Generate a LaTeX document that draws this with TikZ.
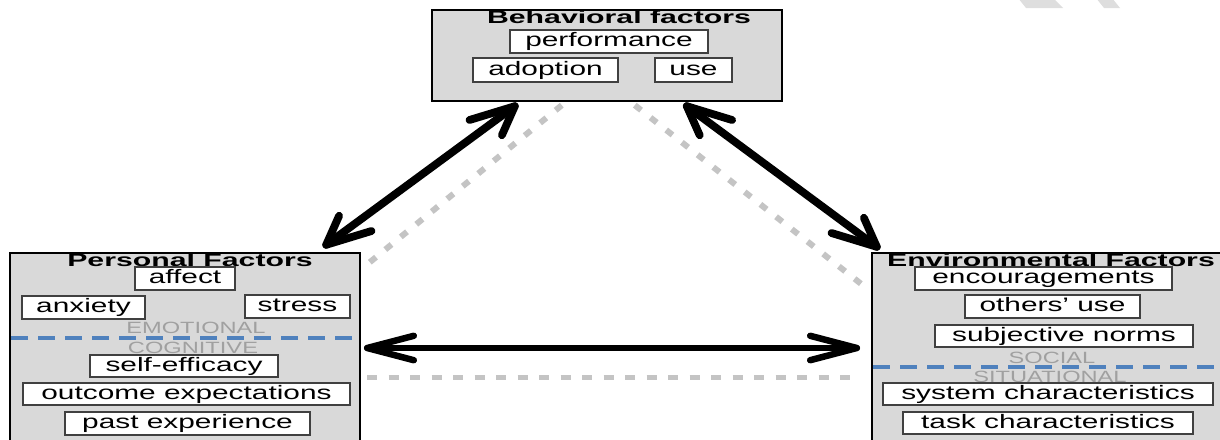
\documentclass[tikz,border=0pt]{standalone}
\usepackage{fontspec}
\setmainfont{Liberation Sans}[FakeStretch=1.53]
\newfontfamily\titlefam{Liberation Sans}[FakeStretch=1.68]
\newfontfamily\labelfam{Liberation Sans}[FakeStretch=1.45]
\usetikzlibrary{calc}
\definecolor{boxgray}{RGB}{217,217,217}
\definecolor{labgray}{RGB}{160,160,160}
\definecolor{dashblue}{RGB}{79,129,189}
\definecolor{dotgray}{RGB}{196,196,196}
\definecolor{markgray}{RGB}{222,222,222}
\tikzset{
 factorbox/.style={rectangle, draw=black, line width=2.4pt, fill=boxgray, inner sep=0pt},
 itembox/.style={rectangle, draw=black!75, line width=1.1pt, fill=white, inner sep=0pt,
   font=\fontsize{19.5}{22}\selectfont, text height=14pt, text depth=4pt},
 titletext/.style={font=\titlefam\fontsize{18}{20}\selectfont\bfseries, anchor=base, inner sep=0pt},
 layerlabel/.style={font=\labelfam\fontsize{16.3}{18}\selectfont, text=labgray, anchor=base, inner sep=0pt},
 layerline/.style={draw=dashblue, line width=3.2pt, dash pattern=on 17pt off 10pt},
 biarrow/.style={draw=black, line width=6.5pt, line cap=round, line join=round},
 diagarrow/.style={biarrow, line width=7.8pt},
 dotline/.style={draw=dotgray, line width=6pt, dash pattern=on 8pt off 12pt},
 hdotline/.style={draw=dotgray, line width=5pt, dash pattern=on 10pt off 11.5pt},
}
\begin{document}
\begin{tikzpicture}[x=1pt,y=-1pt]
\useasboundingbox (0,0) rectangle (1220,439);
% faint marks at the top edge
\fill[markgray] (1018,-2) -- (1053,-2) -- (1063,8) -- (1026,8) -- cycle;
\fill[markgray] (1096,-2) -- (1112,-2) -- (1120,8) -- (1104,8) -- cycle;

% factor boxes
\node[factorbox, minimum width=350pt, minimum height=91pt] (T) at (607,55.5) {};
\node[factorbox, minimum width=350pt, minimum height=192pt] (P) at (185,349) {};
\node[factorbox, minimum width=350pt, minimum height=192pt] (E) at (1047,349) {};

% titles
\node[titletext] (Tt) at (619,23.5) {Behavioral factors};
\node[titletext] (Pt) at (190,266) {Personal Factors};
\node[titletext] (Et) at (1051,266) {Environmental Factors};

% behavioral items
\node[itembox, minimum width=198pt, minimum height=23pt] (perf) at (609,41.5) {performance};
\node[itembox, minimum width=145pt, minimum height=24pt] (adopt) at (545.5,70) {adoption};
\node[itembox, minimum width=77pt, minimum height=24pt] (use) at (693.5,70) {use};

% personal items
\node[itembox, minimum width=100pt, minimum height=23pt] (affect) at (185,278.5) {affect};
\node[itembox, minimum width=123pt, minimum height=23pt] (anx) at (83.5,307.5) {anxiety};
\node[itembox, minimum width=105pt, minimum height=23pt] (stress) at (297.5,306.5) {stress};
\node[layerlabel] (emo) at (196,333) {EMOTIONAL};
\coordinate (pl1) at (11,338);
\coordinate (pl2) at (359,338);
\draw[layerline] (pl1) -- (pl2);
\node[layerlabel] (cog) at (193,353) {COGNITIVE};
\node[itembox, minimum width=188pt, minimum height=22pt] (self) at (184,366) {self-efficacy};
\node[itembox, minimum width=327pt, minimum height=22pt] (outc) at (186.5,394) {outcome expectations};
\node[itembox, minimum width=245pt, minimum height=23pt] (past) at (187.5,423.5) {past experience};

% environmental items
\node[itembox, minimum width=257pt, minimum height=23pt] (enc) at (1043.5,278.5) {encouragements};
\node[itembox, minimum width=175pt, minimum height=23pt] (oth) at (1052.5,306.5) {others’ use};
\node[itembox, minimum width=258pt, minimum height=22pt] (subj) at (1064,336) {subjective norms};
\node[layerlabel] (soc) at (1052,363) {SOCIAL};
\coordinate (el1) at (873,367);
\coordinate (el2) at (1222,367);
\draw[layerline] (el1) -- (el2);
\node[layerlabel] (sit) at (1050,382) {SITUATIONAL};
\node[itembox, minimum width=330pt, minimum height=22pt] (sys) at (1048,394) {system characteristics};
\node[itembox, minimum width=290pt, minimum height=22pt] (task) at (1048,423) {task characteristics};

% connector end points
\coordinate (a1) at ($(T.south west)+(84,4)$);
\coordinate (a2) at ($(P.north east)+(-35,-7)$);
\coordinate (a3) at ($(T.south west)+(256,4)$);
\coordinate (a4) at ($(E.north west)+(6,-5)$);
\coordinate (h1) at ($(P.east)+(6,-1)$);
\coordinate (h2) at ($(E.west)+(-14,-1)$);
\coordinate (g1) at ($(T.south west)+(131,3)$);
\coordinate (g2) at ($(P.north east)+(3,15)$);
\coordinate (g3) at ($(T.south west)+(204,3)$);
\coordinate (g4) at ($(E.north west)+(-6,35)$);
\coordinate (g5) at ($(P.east)+(6,28)$);
\coordinate (g6) at ($(E.west)+(-12,28)$);

% dotted gray links
\draw[dotline] (g1) -- (g2);
\draw[dotline] (g3) -- (g4);
\draw[hdotline] (g5) -- (g6);

% double-headed arrows
\draw[diagarrow] (a1) -- (a2);
\draw[diagarrow] ($(a1)+(-45.3,13.8)$) -- (a1) -- ($(a1)+(-12.9,29.0)$);
\draw[diagarrow] ($(a2)+(45.3,-13.8)$) -- (a2) -- ($(a2)+(12.9,-29.0)$);

\draw[diagarrow] (a3) -- (a4);
\draw[diagarrow] ($(a3)+(45.3,13.8)$) -- (a3) -- ($(a3)+(12.9,29.0)$);
\draw[diagarrow] ($(a4)+(-45.3,-13.8)$) -- (a4) -- ($(a4)+(-12.9,-29.0)$);

\draw[biarrow] (h1) -- (h2);
\draw[biarrow] ($(h1)+(46.6,-12.2)$) -- (h1) -- ($(h1)+(46.6,12.2)$);
\draw[biarrow] ($(h2)+(-46.6,-12.2)$) -- (h2) -- ($(h2)+(-46.6,12.2)$);
\end{tikzpicture}
\end{document}
